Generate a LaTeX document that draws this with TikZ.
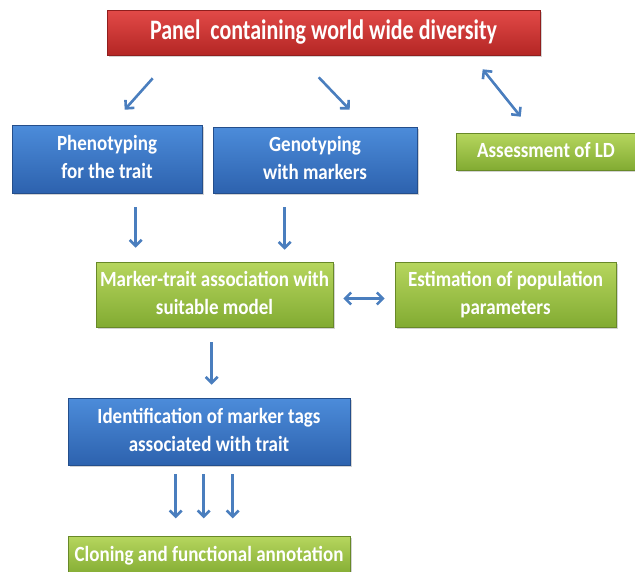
\documentclass[tikz,border=0pt]{standalone}
\usepackage{fontspec}
\usepackage{graphicx}
\setmainfont{Carlito}
\usetikzlibrary{arrows.meta,shadows,calc}
\definecolor{redtop}{HTML}{E24A48}
\definecolor{redbot}{HTML}{B42624}
\definecolor{bluetop}{HTML}{4C8CDA}
\definecolor{bluebot}{HTML}{2D62AE}
\definecolor{greentop}{HTML}{B6D65E}
\definecolor{greenbot}{HTML}{82AB32}
\definecolor{arrowblue}{HTML}{4A7EBE}
% box label: centred lines, set a little taller than wide
\newcommand{\boxlabel}[2][1.14]{\scalebox{1}[#1]{\begin{tabular}{@{}c@{}}#2\end{tabular}}}
\tikzset{
  card/.style={draw=#1bot!80!black, line width=0.6pt, text=white,
    font=\bfseries\fontsize{19}{24.5}\selectfont, align=center,
    top color=#1top, bottom color=#1bot, inner sep=0pt,
    drop shadow={opacity=0.35, shadow xshift=1.5pt, shadow yshift=-2pt}},
  flow/.style={draw=arrowblue, line width=2.6pt, -{Straight Barb[length=6pt,width=12pt]}},
  flow2/.style={draw=arrowblue, line width=2.6pt, {Straight Barb[length=6pt,width=12pt]}-{Straight Barb[length=6pt,width=12pt]}}
}
\begin{document}
\begin{tikzpicture}[x=1pt,y=-1pt]
\useasboundingbox (0,0) rectangle (635,571);

% boxes
\node[card=red, minimum width=433pt, minimum height=45pt,
      font=\bfseries\fontsize{22}{26}\selectfont] (panel) at (323.5,32.5)
      {\boxlabel[1.28]{Panel\ \ containing world wide diversity}};
\node[card=blue, minimum width=190pt, minimum height=68pt] (pheno) at (107,159)
      {\boxlabel{Phenotyping\\for the trait}};
\node[card=blue, minimum width=204pt, minimum height=66pt] (geno) at (315,160)
      {\boxlabel{Genotyping\\with markers}};
\node[card=green, minimum width=180pt, minimum height=37pt] (ld) at (546,151.5)
      {\boxlabel{Assessment of LD}};
\node[card=green, minimum width=237pt, minimum height=65pt] (mta) at (214.5,294.5)
      {\boxlabel{Marker-trait association with\\suitable model}};
\node[card=green, minimum width=221pt, minimum height=65pt] (est) at (505.5,294.5)
      {\boxlabel{Estimation of population\\parameters}};
\node[card=blue, minimum width=282pt, minimum height=67pt] (ident) at (209,431.5)
      {\boxlabel{Identification of marker tags\\associated with trait}};
\node[card=green, minimum width=282pt, minimum height=40pt] (clone) at (209,556)
      {\boxlabel{Cloning and functional annotation}};

% connector end points, placed relative to the boxes
\coordinate (p1) at ($(panel.south west)+(46,23)$);
\coordinate (p2) at ($(pheno.north west)+(113,-15)$);
\coordinate (p3) at ($(panel.south west)+(212,22)$);
\coordinate (p4) at ($(geno.north west)+(137,-17)$);
\coordinate (p5) at ($(panel.south west)+(376,14)$);
\coordinate (p6) at ($(ld.north west)+(65,-16)$);
\coordinate (q1) at ($(pheno.south west)+(124,14)$);
\coordinate (q2) at ($(mta.north west)+(40,-14)$);
\coordinate (q3) at ($(geno.south west)+(72,14)$);
\coordinate (q4) at ($(mta.north west)+(189,-12)$);
\coordinate (h1) at ($(mta.east)+(10,4)$);
\coordinate (h2) at ($(est.west)+(-10,4)$);
\coordinate (r1) at ($(mta.south west)+(116,15)$);
\coordinate (r2) at ($(ident.north west)+(144,-13)$);
\coordinate (t1) at ($(ident.south west)+(108,9)$);
\coordinate (t2) at ($(ident.south west)+(108,53)$);
\coordinate (t3) at ($(ident.south west)+(136,9)$);
\coordinate (t4) at ($(ident.south west)+(136,53)$);
\coordinate (t5) at ($(ident.south west)+(165,9)$);
\coordinate (t6) at ($(ident.south west)+(165,53)$);

% connectors
\draw[flow] (p1) -- (p2);
\draw[flow] (p3) -- (p4);
\draw[flow2] (p5) -- (p6);
\draw[flow] (q1) -- (q2);
\draw[flow] (q3) -- (q4);
\draw[flow2] (h1) -- (h2);
\draw[flow] (r1) -- (r2);
\draw[flow] (t1) -- (t2);
\draw[flow] (t3) -- (t4);
\draw[flow] (t5) -- (t6);
\end{tikzpicture}
\end{document}
